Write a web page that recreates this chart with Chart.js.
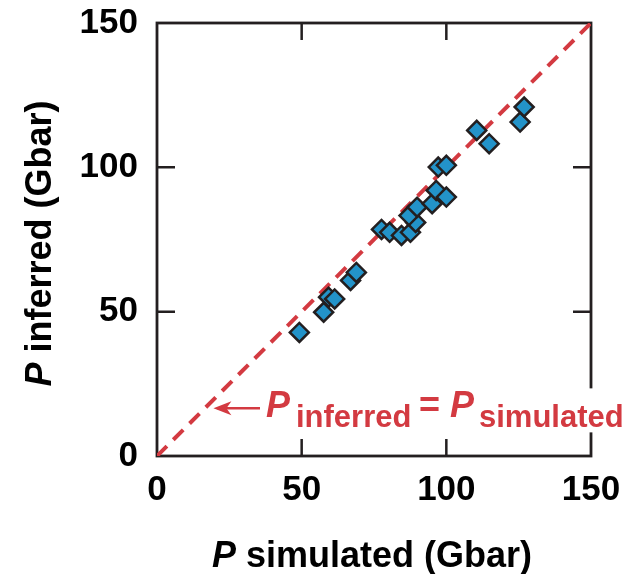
<!DOCTYPE html>
<html>
<head>
<meta charset="utf-8">
<script src="https://cdn.jsdelivr.net/npm/chart.js@4"></script>
<style>
  html, body { margin: 0; padding: 0; background: #fff; }
  #wrap { width: 623px; height: 574px; }
</style>
</head>
<body>
<div id="wrap"><canvas id="canvas" width="623" height="574"></canvas></div>
<script>
// pressure values (Gbar)
const simulated = [49.2, 57.6, 59.3, 61.4, 66.9, 68.9, 77.6, 80.4, 84.5, 87.6, 89.4, 87.1, 89.9, 95.1, 96.5, 100, 97.2, 100, 110.5, 114.8, 125.5, 126.9];
const inferred  = [42.8, 49.8, 55.0, 54.4, 60.8, 63.6, 78.5, 77.5, 76.4, 77.5, 80.9, 83.3, 86.2, 87.4, 92.0, 89.7, 100.1, 100.7, 112.8, 108.2, 115.7, 120.9];
const identityLine = [0, 150];
const tickValues = [0, 50, 100, 150];

const RED = '#d33a41';
const BLUE = '#2393c9';
const INK = '#231f20';
const FONT = '"Liberation Sans", Arial, Helvetica, sans-serif';

let points = simulated.map((x, i) => ({ x: x, y: inferred[i] }));
let linePts = identityLine.map(v => ({ x: v, y: v }));

// frame, inward ticks, axis titles and the red note
const decor = {
  id: 'decor',
  beforeDatasetsDraw(chart) {
    const ctx = chart.ctx;
    const a = chart.chartArea;
    const xs = chart.scales.x, ys = chart.scales.y;
    ctx.save();
    ctx.strokeStyle = INK;
    ctx.lineWidth = 2.5;
    ctx.beginPath();
    tickValues.slice(1, 3).forEach(v => {
      let px = xs.getPixelForValue(v);
      ctx.moveTo(px, a.bottom); ctx.lineTo(px, a.bottom - 17);
      ctx.moveTo(px, a.top); ctx.lineTo(px, a.top + 17);
      let py = ys.getPixelForValue(v);
      ctx.moveTo(a.left, py); ctx.lineTo(a.left + 18, py);
      ctx.moveTo(a.right, py); ctx.lineTo(a.right - 18, py);
    });
    ctx.stroke();
    ctx.lineWidth = 2.8;
    ctx.strokeRect(a.left, a.top, a.right - a.left, a.bottom - a.top);
    ctx.restore();
  },
  afterDatasetsDraw(chart) {
    const ctx = chart.ctx;
    const a = chart.chartArea;
    const xs = chart.scales.x, ys = chart.scales.y;
    ctx.save();

    // x title
    ctx.fillStyle = '#000';
    ctx.textBaseline = 'alphabetic';
    let t1 = 'P', t2 = ' simulated (Gbar)';
    ctx.font = 'italic bold 36px ' + FONT;
    let w1 = ctx.measureText(t1).width;
    ctx.font = 'bold 36px ' + FONT;
    let w2 = ctx.measureText(t2).width;
    let cx = (a.left + a.right) / 2 - 2;
    let x0 = cx - (w1 + w2) / 2;
    ctx.font = 'italic bold 36px ' + FONT;
    ctx.fillText(t1, x0, 567);
    ctx.font = 'bold 36px ' + FONT;
    ctx.fillText(t2, x0 + w1, 567);

    // y title
    ctx.save();
    ctx.translate(51, (a.top + a.bottom) / 2 + 4);
    ctx.rotate(-Math.PI / 2);
    let u2 = ' inferred (Gbar)';
    ctx.font = 'italic bold 36px ' + FONT;
    let v1 = ctx.measureText(t1).width;
    ctx.font = 'bold 36px ' + FONT;
    let v2 = ctx.measureText(u2).width;
    let y0 = -(v1 + v2) / 2;
    ctx.font = 'italic bold 36px ' + FONT;
    ctx.fillText(t1, y0, 0);
    ctx.font = 'bold 36px ' + FONT;
    ctx.fillText(u2, y0 + v1, 0);
    ctx.restore();

    // note: arrow + P_inferred = P_simulated
    let tipX = xs.getPixelForValue(19.5);
    let ay = ys.getPixelForValue(16.5);
    ctx.fillStyle = '#fff';
    ctx.fillRect(265, ay - 20, 623 - 265, 44);

    ctx.strokeStyle = RED;
    ctx.fillStyle = RED;
    ctx.lineWidth = 2.5;
    ctx.beginPath();
    ctx.moveTo(tipX + 4, ay);
    ctx.lineTo(260, ay);
    ctx.stroke();
    ctx.beginPath();
    ctx.moveTo(tipX, ay);
    ctx.lineTo(tipX + 18, ay - 7);
    ctx.lineTo(tipX + 13, ay);
    ctx.lineTo(tipX + 18, ay + 7);
    ctx.closePath();
    ctx.fill();

    let base = ay + 9;
    let subBase = ay + 19;
    ctx.font = 'italic bold 36px ' + FONT;
    ctx.fillText('P', 266, base);
    ctx.font = 'bold 31px ' + FONT;
    ctx.fillText('inferred', 296, subBase);
    ctx.font = 'bold 36px ' + FONT;
    ctx.fillText('=', 419, base);
    ctx.font = 'italic bold 36px ' + FONT;
    ctx.fillText('P', 450, base);
    ctx.font = 'bold 31px ' + FONT;
    ctx.fillText('simulated', 479, subBase);

    ctx.restore();
  }
};

const ctx = document.getElementById('canvas').getContext('2d');

const myChart = new Chart(ctx, {
  type: 'scatter',
  data: {
    datasets: [{
      type: 'line',
      label: 'P inferred = P simulated',
      data: linePts,
      borderColor: RED,
      borderWidth: 4,
      borderDash: [14, 9],
      pointRadius: 0,
      fill: false,
      order: 2
    }, {
      label: 'shots',
      data: points,
      pointStyle: 'rectRot',
      pointRadius: 9.5,
      pointHoverRadius: 9.5,
      backgroundColor: BLUE,
      borderColor: INK,
      borderWidth: 2.5,
      order: 1
    }]
  },
  options: {
    responsive: false,
    animation: false,
    layout: { padding: { left: 0, right: 32, top: 23, bottom: 0 } },
    plugins: {
      legend: { display: false },
      tooltip: { enabled: false }
    },
    scales: {
      x: {
        type: 'linear',
        min: 0, max: 150,
        afterBuildTicks: s => { s.ticks = tickValues.map(v => ({ value: v })); },
        afterFit: s => { s.height = 118; s.paddingLeft = 0; s.paddingRight = 0; },
        grid: { display: false, drawTicks: false },
        border: { display: false },
        ticks: { color: '#000', padding: 13, maxRotation: 0, font: { family: FONT, size: 35, weight: 'bold' } }
      },
      y: {
        type: 'linear',
        min: 0, max: 150,
        afterBuildTicks: s => { s.ticks = tickValues.map(v => ({ value: v })); },
        afterFit: s => { s.width = 157; s.paddingTop = 0; s.paddingBottom = 0; },
        grid: { display: false, drawTicks: false },
        border: { display: false },
        ticks: { color: '#000', padding: 19, font: { family: FONT, size: 35, weight: 'bold' } }
      }
    }
  },
  plugins: [decor]
});
</script>
</body>
</html>
